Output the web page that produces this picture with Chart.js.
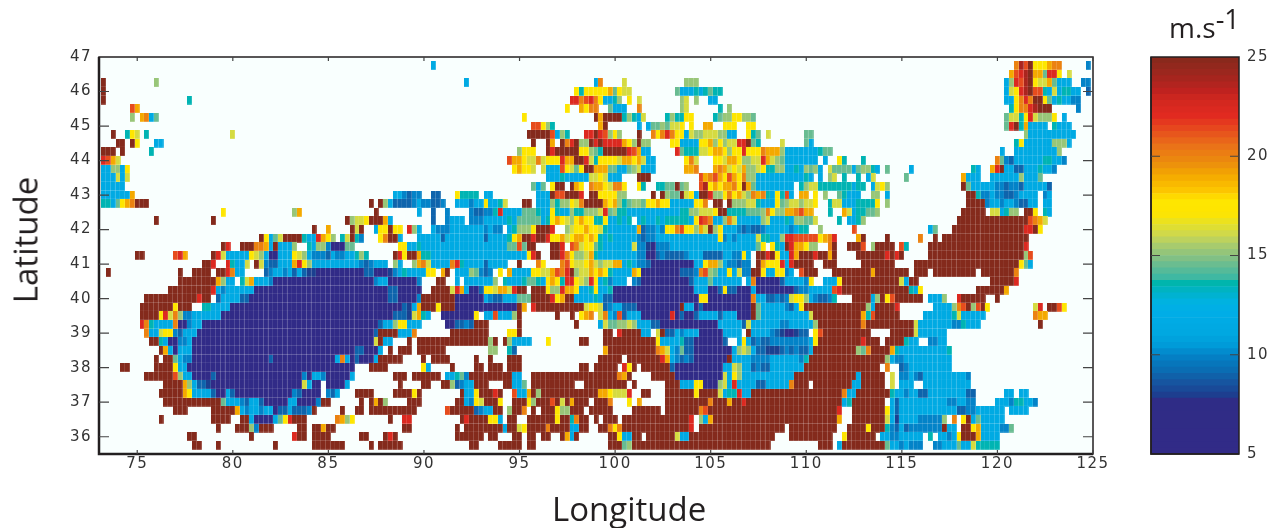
<!DOCTYPE html>
<html>
<head>
<meta charset="utf-8">
<title>Wind speed map</title>
<script src="https://cdn.jsdelivr.net/npm/chart.js@4/dist/chart.umd.min.js"></script>
<style>
  body { margin: 0; background: #fff; }
  #page { position: relative; width: 1282px; height: 528px; overflow: hidden; font-family: "Open Sans", sans-serif; color: #231f20; }
  canvas { position: absolute; top: 0; }
  .label { position: absolute; white-space: nowrap; font-size: 33px; line-height: 1; }
  #unit sup { font-size: 27px; position: relative; top: -9px; vertical-align: baseline; }
</style>
</head>
<body>
<div id="page">
  <canvas id="map" width="1150" height="528" style="left:0"></canvas>
  <canvas id="bar" width="162" height="528" style="left:1120px"></canvas>
  <div class="label" id="lat" style="left:8px;top:240px;transform:translateY(-50%) rotate(-90deg);transform-origin:center;width:34px;display:flex;justify-content:center">Latitude</div>
  <div class="label" id="lon" style="left:552px;top:492px">Longitude</div>
  <div class="label" id="unit" style="left:1169px;top:13px;font-size:28px">m.s<sup>-1</sup></div>
</div>
<script>
// wind speed classes (m/s)
const speedCodes = 'abcdefghijklmnop';
const speedValues = [6, 8, 9, 10, 11.5, 13.5, 14.5, 15.2, 16.2, 17.5, 19, 20, 21.3, 22.3, 23.8, 25];

const lats = [46.75, 46.5, 46.25, 46, 45.75, 45.5, 45.25, 45, 44.75, 44.5, 44.25, 44, 43.75, 43.5, 43.25,
  43, 42.75, 42.5, 42.25, 42, 41.75, 41.5, 41.25, 41, 40.75, 40.5, 40.25, 40, 39.75, 39.5, 39.25,
  39, 38.75, 38.5, 38.25, 38, 37.75, 37.5, 37.25, 37, 36.75, 36.5, 36.25, 36, 35.75];
const firstLon = 73.25;
const lonStep = 0.25;

// one string per latitude: @n jumps to column n, a letter is a speed class, a number repeats it
const speedRows = [
  "@69e@191lompj3kl2@206d",
  "@190kmnopk2gn2j.i",
  "@0p@11h@76e@103el@109i@122h3@189ehnmopji2kge3@205d2",
  "@0p@99jfj5kgji2@120ge3fefgf2@189eijnopm2feief2e2@206c",
  "@0p@18f@98n2lmnlje2fh.j.i@121hi.h@127e2@189e2jlnlp2jgefe2d2",
  "@6mk@97j@100kjl2@106ge3@112l@121hi@129f@131h@190fjl2nop3@204d",
  "@6h.kleg@88j@103pkp4fhfei@118fhf2j2@128fgh2j2h2g@189gi2fjnih3j.e",
  "@90m2jhf@104kp@112e@114eg2hgi2j@123j@126k2@130j3@135j2@189gnpfke4.fe3",
  "@2p@5fji.f@27i@89p5mehf@101n2pnmhjh@112p@115ljlnlj2eih2i3h2e2@135jfg.i@147g2@193he10",
  "@3p2.pj@11e2@90p@93pk.plnph2pnpn4kjhph2@119j2e4j2khjhi2n2pgf@142i@147ge@191fje6h3e",
  "@0p3.p@10f@87hj3@93pnp5j2hgfp5nmke2@120ngf3i2jk2jhj2nj3lk3he7fg2@188e@191e9h",
  "@0nmki@85mk2ji2lij3nk2p2nifj4ik2jkie2@122jli@128j2ik2jh2i2nkihge7@151e@154jf@159f@187lgdce6f2e2d",
  "@0e2h2ej@86jkj2i@92ie3mjigjp2k3g2e2ghie3@122k2l@128klkijikh2ijf2h2e2fehghe@152ig4e@158gh2fe@164g@169e@182fe@186knpe2c2e3fe2d",
  "@0e3iei@93e3fe5i2jie3@112p3@125mklmkjmkjlh2e10fe.e@152hi@155f@158f@160ei@168g@180ke3@186e6he3g",
  "@0e5@90geg.jp2.pkj@102lk2jil2j@112jf@116f2g2pgh@125mojkjk2ljpkge8.fhi2f7ef2.eijh@180pge5d2cd2ce5c",
  "@0e6k@61e2dcd2@69c2@74jf4.e2@91e3pm2p3n.p2j4h2@115p.phg2pijep2nh2jljkihlklfejfme.k2.j@151h@154gfe3@161h2@164e@181p2fd2ed2c2de4.de",
  "@0f2egjklp3@56p.phec4ded2c2d@74e3de2je2fi@88p2@91e3hfh2jilp4kjkhfgh2gj2kj2e5j2l.p2.ph3i2fe3jghi2hi2j@152fi2e3f4j@164h@181p4de2de2dc2e2.e2",
  "@25j@40hk@57p@66e@69c@72d@77dc2d2fne4g3fe2jfe2hf2h3inghf2e11f2h2i3jp2f4g3hljh2k2lmk2@152f@155ki@157ef2g2h@180p5.i2efh2.p2j.fe",
  "@11p@23p@51phi2jp3ke@69c@72de3@77d3e5feg5efjkjihjkj2f2je2fef.efe2fef5ejnmle2hlie5hie3feh2g2i@154f@156e2fh@179p15mlki",
  "@44p@47k@52pip@57ej2pj2.nhe@69ed3e7ded2@85efh3jp3n@97hij2kj2ife6kcd2edj2lmj2hkiphje3dcdc2de5def2@150h@157m@173eg@178p15n2pj",
  "@33pjegip4fe2nkjh.fipfd@58jlp2e@66e5ce8ce4fjkp2np2nj2kijk2jkjfefe5dcd2e13jdede4if2e2hn2m5jkln@158kp@164p@171l@174p@176p18",
  "@25pn@29p3l2kepe3h@43feh2da3g2@62j2e2fe18g2mgp2@94p2n.mlij2gfe6id2bad3e18gj.jfepnk2jh2@152lp@156p3m.hp4.mf@173p20n",
  "@7p2@15mnk@23pnie5jihea2e3jihed3ced2e2fhf@61pnjp2kf2e20jnp@94p2nljh2ikfe8d2a2cdc4de3c4e2d2je.p2npje2nkp3np2kp@158p6npnp@173p20hm",
  "@21p2n.2nfe2i.pidc2e3knjhe10dcde3.he@65hklie4lnfe4ce4.2p@91lj@96lmji2jkihi2k2efed2ca9e2jk2hed2cd2@137pkj3nenp4@151p3@159p7@170p22jge",
  "@1p@16p@19p4.p2nle2@34cde2dececb2a10c2a3bdefe4j2.kp.e3hgdcd.j.ke4j2i2kmlnphi2kjkjfe4kja8c3dlmhge2jeid2p2je2j2de.mp3@153p8kp7.p3.p9.p7l",
  "@16p8khe2.fike3da21de2a6d.3p2.2e.e6h.fe3fg2fejkjfn2jihnjefde3.dca10ce3ge6.ela5ce4dj.2e3jp12iep2@186p5n",
  "@14p9nede6a28c2a5.2p4inkea2cj2ik2inp2.p3jh2nk2je2fje2fa17e3a2cjc2a3ea8cd2e5mnp14fej@183p6k",
  "@9p11np2.ce4c2a29c2a4dp7a6edc2e3g3p4njkp2e4fec2a18j2a9le2c2dcdij2hedc2df@157p4ehpjmp6@173e3h@179np5@187p",
  "@8p7jp3.2f2e4a36cbekp3jp3a13pk.np10ij2icde2c3a9pe2aca10pge5dcejp13hep4n@174e4hlmphmpj@195in.p2mj",
  "@8p4jnilhd2e6a36c3bikfe.2a7j.e2me3hp@95p@98p@100jkl.iledmce3a6naca2ce4ce3a3pge10ip10kfmp5@172e6fie5@195lk2",
  "@8nlfe4la2de2a37ce2hj2e3@72a2c2dcp3@87p@99p@104eig2h2ihe3c2a12e5cie6d2e5hp9lp10ie7d2fe3@196p",
  "@9le2ij2dce3a37cp4e3l@73p8@85j2p@105p2.np4e2.ipc2ede3a5e4.pe4dcba2bc2.jmp10@165p5ie6",
  "@10p2fea2d2ea38ipe2@64p.p15hp.phe4@93j@100p2@105p11je4fc2a6c@133ejecdc2d8ejp9np3.p4fe2@173d2e2",
  "@12pkeae3a34c2a3e.p.p3@66p6@81h2@85fc@105kp10lkiedgc2a8ehihec2b3cdcdc2ep9hglp4kfe10f",
  "@11p.p2ged2a16ca13eleaca3ep5@67p.p4@78p@81p@85p3@104p5.p7nkedcdca7pe4d4e6dfp16hed2e10",
  "@4p2@11p4je2a35@56p4@67je@73p@78p2@81p3@85p3@100p2@103p5.njp.p6ca10e2ihe2cdc2e7p16.l.2cde9",
  "@9p6mhe2a4ca18dae2da5e@61p3.p6.e2fgdp9e2.2p18lkp@115p5a10iejhe2e9p13ep5.i.d2edce9d",
  "@13p4khec2ba19iea2.a4e@62p@67p2@71p2hcde2p3@84p2e2g.p9.2p9.p@118p3e3j2a3hiene3ec2e5lp3.p8e2p5.i.e3@172e10",
  "@12p5kje4ca2eca12dca4.dce@53p4@61p4jp@75pe2jp3np.2me2kphp12k2ji3n@113p2@118p6jp4ief2ne2p19le2p7fe2de2c2e8c2@189e2@192e2",
  "@13p12ge3dce2ca5e2a4dp2@54p@56pkph@64p3@74p2edjip3j@86p3jhp3mpipkp3.p3l@110j@112k@118p9lp3kp2np20efp7.ece10d2e2d2@187e3df2e2d",
  "@15p3@23p5kede2de2ac2ec3dp@50p@53p2@56p10@72mp5cde2p2.hp2l.p.p3jh2p3.p5@111p6.p7lmp27n.2p7jece12c2d2e6@190e4",
  "@12p@23p4@29p2ea4egjnp3@49lkhj@60p@63n2@75pnp4j2e.p2.2p6jp2flp2.p.p3@109p14n.hekp26k.2p7iebe4d5h.l.jpege5",
  "@24p@28p3hdp3@41p2@44p2kp2@63p2@74p@76p8ep2ijp4lp4e2p2@104p2ljlp14n.p18.p10.2p4jp3fdcecd7pe2.p2jke4d2g",
  "@18p2@31p@40np2@44p4@54p2@59pnp@74p6.p2@86p2.p2.p2@96pkep@106p2je2p2.p6ie2p18.3p9.2jp6.e2d2e5.f.e2dejp3ke4",
  "@19p2@24p@36p@44p7@56p@58p5@77p2@83p5@89p2@106p3ghp29@150p3.ep9ge2ded3.2d2e3ge2if5"
];

const barTicks = [5, 10, 15, 20, 25];

// colour bar of the figure, value then colour
const colorStops = [[5, '#322b87'], [7.7, '#2f2c86'], [8, '#1b4090'], [8.6, '#1655a0'], [9.2, '#0a6cb2'], [10, '#0383c8'],
  [10.4, '#0099d8'], [11, '#00a7e0'], [12.2, '#00aee8'], [12.7, '#00b2df'], [13.3, '#00b3c0'], [13.6, '#00b5ad'],
  [13.9, '#3fb8a2'], [14.6, '#6fbd8e'], [15, '#8cc27f'], [15.6, '#afcd69'], [16, '#cdd84f'], [16.6, '#e6e126'],
  [17.1, '#fee500'], [17.8, '#fee600'], [18.2, '#fdc800'], [19, '#f4a900'], [19.6, '#ec8f0c'], [20.5, '#ea7218'],
  [21, '#e85a1c'], [22, '#e22a20'], [22.8, '#d1281f'], [23.3, '#be221f'], [24, '#a2261e'], [25, '#842a1c']];

function speedColor(v) {
  for (let i = 1; i < colorStops.length; i++) {
    if (v <= colorStops[i][0]) {
      const [v0, c0] = colorStops[i - 1];
      const [v1, c1] = colorStops[i];
      const t = (v - v0) / (v1 - v0);
      const parts = [1, 3, 5].map(p => {
        const a = parseInt(c0.substr(p, 2), 16);
        const b = parseInt(c1.substr(p, 2), 16);
        return Math.round(a + (b - a) * t);
      });
      return `rgb(${parts.join(',')})`;
    }
  }
  return colorStops[colorStops.length - 1][1];
}

// small cell image per speed class, used as the point style
const cellImages = {};
function cellImage(v) {
  if (cellImages[v]) return cellImages[v];
  const c = document.createElement('canvas');
  c.width = 5;
  c.height = 9;
  const g = c.getContext('2d');
  g.fillStyle = speedColor(v);
  g.fillRect(0, 0, 5, 9);
  g.fillStyle = 'rgba(255,255,255,0.22)';
  g.fillRect(4, 0, 1, 9);
  g.fillRect(0, 8, 5, 1);
  cellImages[v] = c;
  return c;
}

// turn the row strings into points
const cells = [];
speedRows.forEach((row, r) => {
  let col = 0;
  for (const m of row.matchAll(/@(\d+)|([a-p.])(\d*)/g)) {
    if (m[1] !== undefined) {
      col = parseInt(m[1]);
      continue;
    }
    const count = m[3] ? parseInt(m[3]) : 1;
    for (let i = 0; i < count; i++) {
      if (m[2] !== '.') {
        cells.push({ x: firstLon + col * lonStep, y: lats[r], v: speedValues[speedCodes.indexOf(m[2])] });
      }
      col++;
    }
  }
});

Chart.defaults.animation = false;
Chart.defaults.events = [];

const axisColor = '#231f20';
const tickFont = { family: 'DejaVu Sans', size: 15 };

// plot background, frame and the short inward ticks
const framePlugin = {
  id: 'frame',
  beforeDraw(chart) {
    // the figure's tick digits are set wide
    chart.ctx.letterSpacing = '1.5px';
  },
  beforeDatasetsDraw(chart, args, opts) {
    const a = chart.chartArea;
    if (opts.background) {
      chart.ctx.fillStyle = opts.background;
      chart.ctx.fillRect(a.left, a.top, a.width, a.height);
    }
  },
  afterDatasetsDraw(chart, args, opts) {
    const { ctx, chartArea: a, scales } = chart;
    ctx.save();
    ctx.strokeStyle = axisColor;
    ctx.lineWidth = 1.5;
    ctx.strokeRect(a.left, a.top, a.width, a.height);
    ctx.lineWidth = opts.heavy;
    ctx.beginPath();
    ctx.moveTo(a.left, a.top);
    ctx.lineTo(a.left, a.bottom);
    ctx.lineTo(a.right, a.bottom);
    ctx.stroke();
    ctx.lineWidth = 1.2;
    ctx.strokeStyle = '#444';
    ctx.beginPath();
    if (opts.xLen) {
      scales.x.ticks.forEach(t => {
        const px = scales.x.getPixelForValue(t.value);
        ctx.moveTo(px, a.top);
        ctx.lineTo(px, a.top + opts.xLen);
        ctx.moveTo(px, a.bottom);
        ctx.lineTo(px, a.bottom - opts.xLen);
      });
    }
    scales.y.ticks.forEach(t => {
      if (t.value === scales.y.min || t.value === scales.y.max) return;
      const py = scales.y.getPixelForValue(t.value);
      ctx.moveTo(a.left, py);
      ctx.lineTo(a.left + opts.yLen, py);
      ctx.moveTo(a.right, py);
      ctx.lineTo(a.right - opts.yLen, py);
    });
    ctx.stroke();
    ctx.restore();
  }
};

new Chart(document.getElementById('map'), {
  type: 'scatter',
  data: {
    datasets: [{
      data: cells,
      pointStyle: c => cellImage(c.raw.v),
      pointRadius: 3,
      pointHoverRadius: 3
    }]
  },
  options: {
    responsive: false,
    layout: { padding: { top: 57, right: 57, left: 0, bottom: 0 } },
    plugins: {
      legend: { display: false },
      tooltip: { enabled: false },
      frame: { background: '#f9fffe', heavy: 2.5, xLen: 4, yLen: 10 }
    },
    scales: {
      x: {
        type: 'linear', min: 73, max: 125,
        afterFit: s => { s.height = 74; },
        border: { display: false },
        grid: { display: false, drawTicks: false },
        ticks: { stepSize: 5, includeBounds: false, maxRotation: 0, font: tickFont, color: '#333', padding: 1 }
      },
      y: {
        type: 'linear', min: 35.5, max: 47,
        afterFit: s => { s.width = 99; },
        border: { display: false },
        grid: { display: false, drawTicks: false },
        ticks: { stepSize: 1, includeBounds: false, font: tickFont, color: '#333', padding: 7 }
      }
    }
  },
  plugins: [framePlugin]
});

// colour bar: 64 stepped bands, as in the figure
const bandCount = 64;
const bandSize = (barTicks[barTicks.length - 1] - barTicks[0]) / bandCount;
const bands = [];
for (let i = 0; i < bandCount; i++) {
  const lo = barTicks[0] + i * bandSize;
  bands.push({
    data: [[lo, lo + bandSize]],
    backgroundColor: speedColor(lo + bandSize / 2),
    borderWidth: 0,
    barPercentage: 1,
    categoryPercentage: 1,
    grouped: false
  });
}

new Chart(document.getElementById('bar'), {
  type: 'bar',
  data: { labels: ['speed'], datasets: bands },
  options: {
    responsive: false,
    layout: { padding: { top: 57, left: 31, right: 0, bottom: 74 } },
    plugins: {
      legend: { display: false },
      tooltip: { enabled: false },
      frame: { heavy: 1.5, xLen: 0, yLen: 9 }
    },
    scales: {
      x: { display: false },
      y: {
        position: 'right', min: 5, max: 25,
        afterFit: s => { s.width = 43; },
        border: { display: false },
        grid: { display: false, drawTicks: false },
        ticks: { stepSize: 5, font: tickFont, color: '#333', padding: 8 }
      }
    }
  },
  plugins: [framePlugin]
});
</script>
</body>
</html>
